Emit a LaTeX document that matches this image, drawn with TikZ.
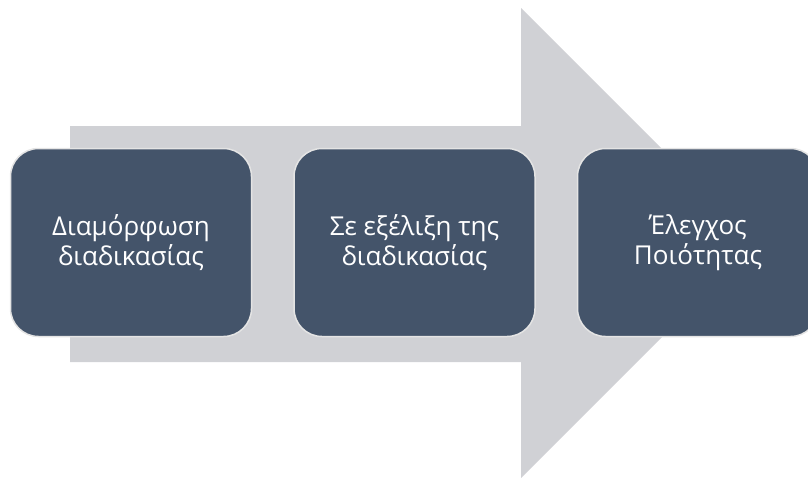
\documentclass[tikz,border=0pt]{standalone}
\usepackage{fontspec}
\setmainfont{Open Sans}
\usetikzlibrary{positioning}
\definecolor{arrowgray}{HTML}{D0D1D5}
\definecolor{slate}{HTML}{44546A}
\definecolor{rim}{HTML}{E4E4E4}
\tikzset{
  stage/.style={draw=rim, line width=1.5pt, fill=slate, rounded corners=28pt,
    minimum width=241pt, minimum height=188pt, align=center, text=white,
    font=\fontsize{26}{30}\selectfont},
}
\begin{document}
\begin{tikzpicture}[x=1pt, y=-1pt]
\useasboundingbox (0, 0) rectangle (808, 477);

% big arrow behind the boxes
\path (70, 126) coordinate (tail);
\fill [arrowgray]
     (tail)
  -- ++(451, 0)
  -- ++(0, -118)
  -- ++(235, 235)
  -- ++(-235, 235)
  -- ++(0, -116)
  -- ++(-451, 0)
  -- cycle;

%%%%%%%%%%%%%%%%%%%%%%%%%%%%%%%%%%%%%%%%

\node [stage] (shape) at (131, 242.5) {Διαμόρφωση\\διαδικασίας};
\node [stage, right=41pt of shape] (progress) {Σε εξέλιξη της\\διαδικασίας};
\node [stage, right=41pt of progress] (quality) {Έλεγχος\\Ποιότητας};

\end{tikzpicture}
\end{document}
